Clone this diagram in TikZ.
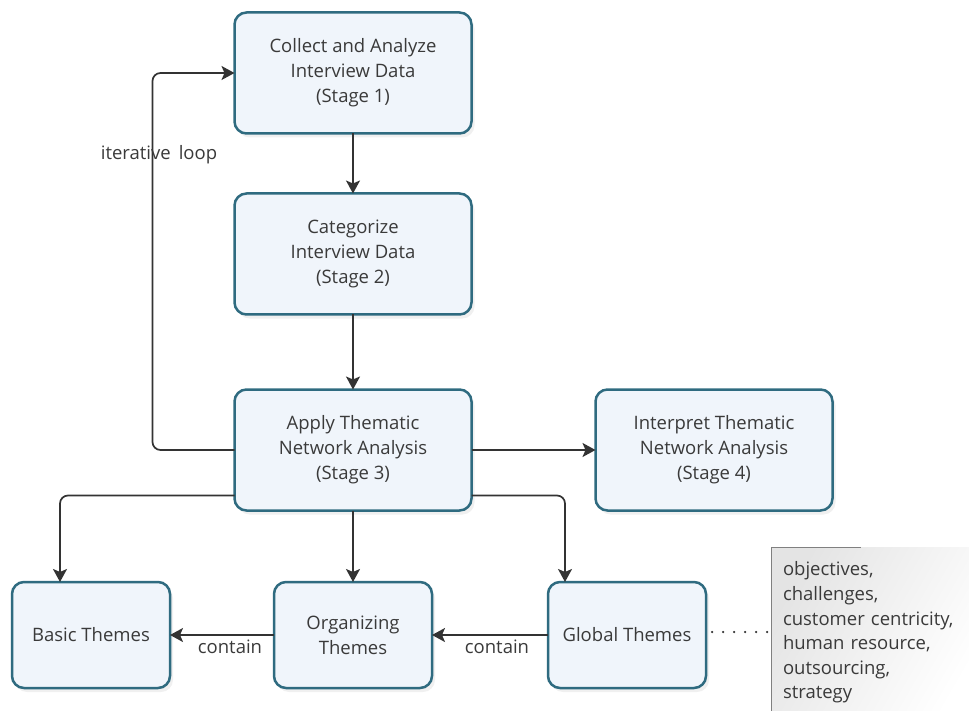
\documentclass[tikz,border=0pt]{standalone}
\usepackage{fontspec}
\setmainfont{Open Sans}
\usetikzlibrary{arrows.meta,shadows}
\definecolor{boxline}{HTML}{2F6B80}
\definecolor{boxfill}{HTML}{F0F5FB}
\definecolor{linegray}{HTML}{333333}
\definecolor{textgray}{HTML}{3A3A3A}
\definecolor{notegray}{HTML}{E4E4E4}
\begin{document}
\begin{tikzpicture}[x=1pt,y=-1pt,inner sep=0pt,outer sep=0pt,
stagebox/.style={draw=boxline,line width=2.5pt,rectangle,rounded corners=12pt,fill=boxfill,
  drop shadow={shadow xshift=3pt,shadow yshift=-4pt,opacity=0.12},
  minimum width=237pt,minimum height=121pt,align=center,text=textgray,
  font=\fontsize{18.5}{25}\selectfont},
themebox/.style={stagebox,minimum width=158pt,minimum height=106pt},
notebox/.style={rectangle,left color=notegray,right color=white,shading angle=60,
  minimum width=198pt,minimum height=171pt,inner xsep=12pt,text width=186pt,align=left,
  text=textgray,font=\fontsize{18.5}{24.6}\selectfont},
flow/.style={draw=linegray,line width=1.7pt,-{Stealth[length=13pt,width=14pt,inset=3pt]}},
edgetext/.style={text=textgray,font=\fontsize{18.5}{20}\selectfont}]
\useasboundingbox (0,0) rectangle (969,711);
\draw (353,73) node[stagebox] (s1) {Collect and Analyze\\Interview Data\\(Stage 1)};
\draw (353,254) node[stagebox] (s2) {Categorize\\Interview Data\\(Stage 2)};
\draw (353,450) node[stagebox] (s3) {Apply Thematic\\Network Analysis\\(Stage 3)};
\draw (714,450) node[stagebox] (s4) {Interpret Thematic\\Network Analysis\\(Stage 4)};
\draw (91,635) node[themebox] (basic) {Basic Themes};
\draw (353,635) node[themebox] (org) {Organizing\\Themes};
\draw (627,635) node[themebox] (glob) {Global Themes};
\draw (771,547) node[notebox,anchor=north west] (note) {objectives,\\challenges,\\customer centricity,\\human resource,\\outsourcing,\\strategy};
\draw[gray,line width=1pt] (note.south west) -- (note.north west) -- ([xshift=-120pt]note.north east);
% main stages
\draw[flow] (s1) -- (s2);
\draw[flow] (s2) -- (s3);
\draw[flow] (s3) -- (s4);
\draw[flow,rounded corners=8pt] (s3.west) -| ([xshift=-82pt]s1.west) -- (s1.west);
\draw (159,155) node[edgetext] (loop) {iterative\hspace{8pt}loop};
% themes
\draw[flow,rounded corners=8pt] ([yshift=15pt]s3.south west) -| ([xshift=-31pt]basic.north);
\draw[flow] (s3) -- (org);
\draw[flow,rounded corners=8pt] ([yshift=15pt]s3.south east) -| ([xshift=-62pt]glob.north);
\draw[flow] (glob) -- node[edgetext,below=5pt,xshift=7pt] {contain} (org);
\draw[flow] (org) -- node[edgetext,below=5pt,xshift=8pt] {contain} (basic);
\draw[linegray,line width=2.5pt,line cap=round,dash pattern=on 0pt off 11pt] ([xshift=6pt,yshift=3pt]glob.east) -- ([yshift=3pt]note.west |- glob.east);
\end{tikzpicture}
\end{document}
